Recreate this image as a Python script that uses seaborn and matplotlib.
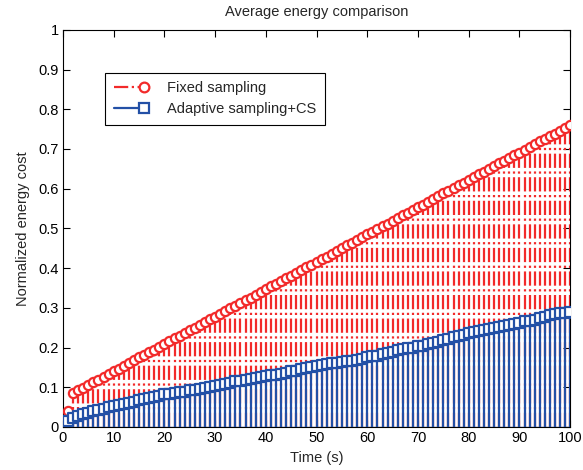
import numpy as np
import pandas as pd
import matplotlib
matplotlib.use("Agg")
import matplotlib.pyplot as plt
from matplotlib.lines import Line2D
from matplotlib.legend_handler import HandlerBase
import seaborn as sns

# Time axis (s)
time_s = list(range(1, 101))

# Normalized energy cost, fixed-rate sampling
fixed_sampling = [
    0.040, 0.085, 0.092, 0.099, 0.106, 0.113, 0.119, 0.126, 0.133, 0.140,
    0.147, 0.154, 0.161, 0.168, 0.175, 0.181, 0.188, 0.195, 0.202, 0.209,
    0.216, 0.223, 0.230, 0.237, 0.243, 0.250, 0.257, 0.264, 0.271, 0.278,
    0.285, 0.292, 0.299, 0.305, 0.312, 0.319, 0.326, 0.333, 0.340, 0.347,
    0.354, 0.361, 0.367, 0.374, 0.381, 0.388, 0.395, 0.402, 0.409, 0.416,
    0.423, 0.429, 0.436, 0.443, 0.450, 0.457, 0.464, 0.471, 0.478, 0.485,
    0.491, 0.498, 0.505, 0.512, 0.519, 0.526, 0.533, 0.540, 0.547, 0.553,
    0.560, 0.567, 0.574, 0.581, 0.588, 0.595, 0.602, 0.609, 0.615, 0.622,
    0.629, 0.636, 0.643, 0.650, 0.657, 0.664, 0.671, 0.677, 0.684, 0.691,
    0.698, 0.705, 0.712, 0.719, 0.726, 0.733, 0.739, 0.746, 0.753, 0.760,
]

# Normalized energy cost, adaptive sampling with compressive sensing
adaptive_cs = [
    0.015, 0.022, 0.028, 0.032, 0.036, 0.040, 0.043, 0.046, 0.050, 0.053,
    0.055, 0.058, 0.061, 0.064, 0.067, 0.070, 0.073, 0.076, 0.079, 0.082,
    0.083, 0.085, 0.087, 0.089, 0.092, 0.094, 0.096, 0.099, 0.101, 0.104,
    0.106, 0.109, 0.112, 0.115, 0.116, 0.118, 0.121, 0.123, 0.126, 0.129,
    0.130, 0.132, 0.134, 0.137, 0.140, 0.142, 0.145, 0.148, 0.150, 0.153,
    0.155, 0.158, 0.160, 0.162, 0.164, 0.166, 0.167, 0.169, 0.172, 0.175,
    0.178, 0.180, 0.183, 0.186, 0.190, 0.193, 0.196, 0.199, 0.200, 0.203,
    0.205, 0.208, 0.212, 0.215, 0.219, 0.222, 0.226, 0.229, 0.232, 0.236,
    0.239, 0.242, 0.244, 0.246, 0.249, 0.252, 0.255, 0.257, 0.260, 0.263,
    0.266, 0.268, 0.270, 0.274, 0.278, 0.281, 0.284, 0.286, 0.288, 0.290,
]

series_labels = ["Fixed sampling", "Adaptive sampling+CS"]
x_ticks = list(range(0, 101, 10))
y_ticks = [round(v * 0.1, 1) for v in range(0, 11)]
y_tick_labels = ["0", "0.1", "0.2", "0.3", "0.4", "0.5", "0.6", "0.7", "0.8", "0.9", "1"]

RED = "#f22a2a"
BLUE = "#2350a6"
LW = 1.6

sns.set_style("ticks")
plt.rcParams["font.family"] = ["Liberation Sans", "DejaVu Sans"]
plt.rcParams["font.size"] = 10.5

df = pd.DataFrame({"t": time_s, "fixed": fixed_sampling, "adaptive": adaptive_cs})

fig = plt.figure(figsize=(5.83, 4.70), dpi=100)
ax = fig.add_axes([0.108, 0.0915, 0.870, 0.845])

# Stems for the fixed scheme (dash-dot), then the adaptive scheme on top
ax.vlines(df["t"], 0, df["fixed"], colors=RED, linestyles="-.", linewidth=LW, zorder=2)
sns.scatterplot(data=df, x="t", y="fixed", marker="o", s=44, facecolor="white",
                edgecolor=RED, linewidth=LW, ax=ax, zorder=3, legend=False)
ax.vlines(df["t"], 0, df["adaptive"], colors=BLUE, linestyles="-", linewidth=LW, zorder=4)
sns.scatterplot(data=df, x="t", y="adaptive", marker="s", s=44, facecolor="white",
                edgecolor=BLUE, linewidth=LW, ax=ax, zorder=5, legend=False)
ax.axhline(0, color=BLUE, linewidth=1.0, zorder=4)

ax.set_xlim(0, 100)
ax.set_ylim(0, 1)
ax.set_xticks(x_ticks)
ax.set_yticks(y_ticks)
ax.set_yticklabels(y_tick_labels)
ax.tick_params(direction="in", length=5, width=0.8, top=True, right=True,
               labelsize=10.5, colors="black", pad=3)
for sp in ax.spines.values():
    sp.set_visible(True)
    sp.set_linewidth(0.8)
    sp.set_color("black")

ax.set_title("Average energy comparison", fontsize=10.5, pad=10)
ax.set_xlabel("Time (s)", fontsize=10.5, labelpad=4)
ax.set_ylabel("Normalized energy cost", fontsize=10.5, labelpad=6)


class StemLegendHandler(HandlerBase):
    """Legend key drawn as a stem line with its marker at the right end."""

    def create_artists(self, legend, orig_handle, xdescent, ydescent,
                       width, height, fontsize, trans):
        y = height / 2.0 - ydescent
        x0, x1 = -xdescent, -xdescent + width
        line = Line2D([x0, x1], [y, y], color=orig_handle.get_color(),
                      linestyle=orig_handle.get_linestyle(),
                      linewidth=orig_handle.get_linewidth())
        mark = Line2D([x1], [y], linestyle="none", marker=orig_handle.get_marker(),
                      markersize=orig_handle.get_markersize(),
                      markerfacecolor="white",
                      markeredgecolor=orig_handle.get_markeredgecolor(),
                      markeredgewidth=orig_handle.get_markeredgewidth())
        line.set_transform(trans)
        mark.set_transform(trans)
        return [line, mark]


h_fixed = Line2D([], [], color=RED, linestyle="-.", linewidth=LW, marker="o",
                 markersize=7, markeredgecolor=RED, markeredgewidth=LW)
h_adapt = Line2D([], [], color=BLUE, linestyle="-", linewidth=LW, marker="s",
                 markersize=7, markeredgecolor=BLUE, markeredgewidth=LW)
leg = ax.legend([h_fixed, h_adapt], series_labels,
                loc="upper left", bbox_to_anchor=(0.083, 0.892), frameon=True,
                fancybox=False, edgecolor="black", framealpha=1, fontsize=10.5,
                handlelength=2.1, handletextpad=1.55, borderpad=0.6,
                labelspacing=0.45, borderaxespad=0,
                handler_map={Line2D: StemLegendHandler()})
leg.get_frame().set_linewidth(0.8)
leg.set_zorder(10)

fig.savefig("out.png", dpi=100)
